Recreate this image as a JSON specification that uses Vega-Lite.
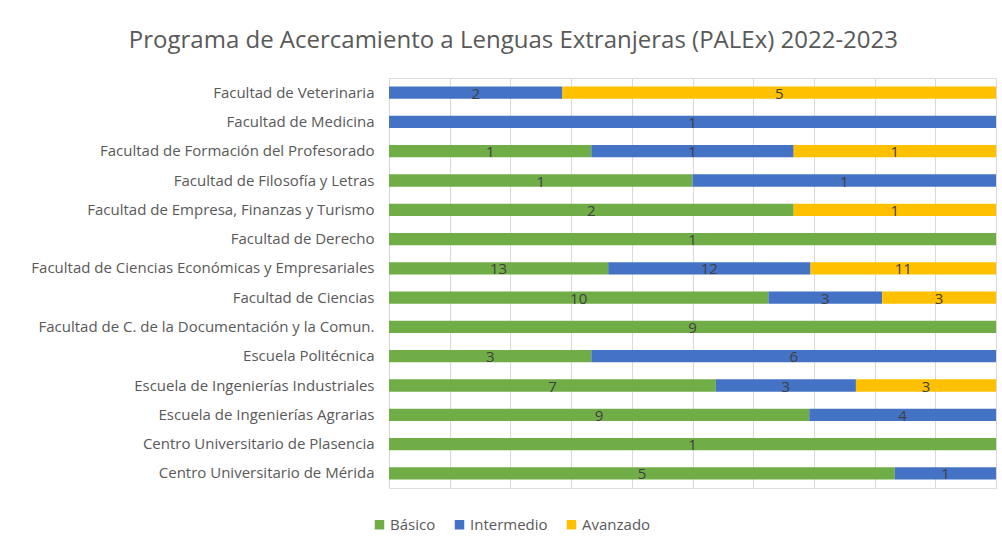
{
  "$schema": "https://vega.github.io/schema/vega-lite/v6.json",
  "width": 607,
  "height": 410,
  "autosize": {"type": "none"},
  "padding": {"left": 389, "top": 78, "right": 6, "bottom": 60},
  "background": "white",
  "title": {
    "text": "Programa de Acercamiento a Lenguas Extranjeras (PALEx)  2022-2023",
    "font": "Open Sans",
    "fontSize": 24,
    "fontWeight": "normal",
    "color": "#595959",
    "anchor": "middle",
    "frame": "bounds",
    "offset": 25
  },
  "data": {
    "values": [
      {"centro": "Facultad de Veterinaria", "nivel": "Intermedio", "n": 2},
      {"centro": "Facultad de Veterinaria", "nivel": "Avanzado", "n": 5},
      {"centro": "Facultad de Medicina", "nivel": "Intermedio", "n": 1},
      {"centro": "Facultad de Formación del Profesorado", "nivel": "Básico", "n": 1},
      {"centro": "Facultad de Formación del Profesorado", "nivel": "Intermedio", "n": 1},
      {"centro": "Facultad de Formación del Profesorado", "nivel": "Avanzado", "n": 1},
      {"centro": "Facultad de Filosofía y Letras", "nivel": "Básico", "n": 1},
      {"centro": "Facultad de Filosofía y Letras", "nivel": "Intermedio", "n": 1},
      {"centro": "Facultad de Empresa, Finanzas y Turismo", "nivel": "Básico", "n": 2},
      {"centro": "Facultad de Empresa, Finanzas y Turismo", "nivel": "Avanzado", "n": 1},
      {"centro": "Facultad de Derecho", "nivel": "Básico", "n": 1},
      {"centro": "Facultad de Ciencias Económicas y Empresariales", "nivel": "Básico", "n": 13},
      {"centro": "Facultad de Ciencias Económicas y Empresariales", "nivel": "Intermedio", "n": 12},
      {"centro": "Facultad de Ciencias Económicas y Empresariales", "nivel": "Avanzado", "n": 11},
      {"centro": "Facultad de Ciencias", "nivel": "Básico", "n": 10},
      {"centro": "Facultad de Ciencias", "nivel": "Intermedio", "n": 3},
      {"centro": "Facultad de Ciencias", "nivel": "Avanzado", "n": 3},
      {"centro": "Facultad de C. de la Documentación y  la Comun.", "nivel": "Básico", "n": 9},
      {"centro": "Escuela Politécnica", "nivel": "Básico", "n": 3},
      {"centro": "Escuela Politécnica", "nivel": "Intermedio", "n": 6},
      {"centro": "Escuela de Ingenierías Industriales", "nivel": "Básico", "n": 7},
      {"centro": "Escuela de Ingenierías Industriales", "nivel": "Intermedio", "n": 3},
      {"centro": "Escuela de Ingenierías Industriales", "nivel": "Avanzado", "n": 3},
      {"centro": "Escuela de Ingenierías Agrarias", "nivel": "Básico", "n": 9},
      {"centro": "Escuela de Ingenierías Agrarias", "nivel": "Intermedio", "n": 4},
      {"centro": "Centro Universitario de Plasencia", "nivel": "Básico", "n": 1},
      {"centro": "Centro Universitario de Mérida", "nivel": "Básico", "n": 5},
      {"centro": "Centro Universitario de Mérida", "nivel": "Intermedio", "n": 1}
    ]
  },
  "transform": [
    {"calculate": "indexof(['Básico', 'Intermedio', 'Avanzado'], datum.nivel)", "as": "orden"}
  ],
  "encoding": {
    "y": {
      "field": "centro",
      "type": "nominal",
      "sort": null,
      "title": null,
      "scale": {"paddingInner": 0.58, "paddingOuter": 0.29},
      "axis": {
        "domain": true,
        "domainColor": "#d9d9d9",
        "ticks": false,
        "labelPadding": 15,
        "labelFont": "Open Sans",
        "labelFontSize": 15,
        "labelColor": "#595959",
        "labelLimit": 400
      }
    }
  },
  "layer": [
    {
      "mark": {"type": "bar"},
      "encoding": {
        "x": {
          "field": "n",
          "type": "quantitative",
          "stack": "normalize",
          "title": null,
          "scale": {"domain": [0, 1]},
          "axis": {
            "values": [0, 0.1, 0.2, 0.3, 0.4, 0.5, 0.6, 0.7, 0.8, 0.9, 1],
            "grid": true,
            "gridColor": "#d9d9d9",
            "labels": false,
            "ticks": false,
            "domain": false,
            "zindex": 0
          }
        },
        "order": {"field": "orden", "type": "quantitative", "sort": "ascending"},
        "color": {
          "field": "nivel",
          "type": "nominal",
          "sort": ["Básico", "Intermedio", "Avanzado"],
          "scale": {
            "domain": ["Básico", "Intermedio", "Avanzado"],
            "range": ["#70ad47", "#4472c4", "#ffc000"]
          },
          "legend": {
            "title": null,
            "orient": "none",
            "direction": "horizontal",
            "legendX": -17,
            "legendY": 439,
            "symbolType": "square",
            "symbolSize": 90,
            "symbolStrokeWidth": 0,
            "labelFont": "Open Sans",
            "labelFontSize": 15,
            "labelColor": "#595959",
            "columnPadding": 16,
            "labelOffset": 3
          }
        }
      }
    },
    {
      "mark": {
        "type": "text",
        "font": "Open Sans",
        "fontSize": 15,
        "color": "#404040",
        "baseline": "middle",
        "align": "center",
        "dy": 1
      },
      "encoding": {
        "x": {
          "field": "n",
          "type": "quantitative",
          "stack": "normalize",
          "bandPosition": 0.5
        },
        "detail": {"field": "nivel", "type": "nominal"},
        "order": {"field": "orden", "type": "quantitative", "sort": "ascending"},
        "text": {"field": "n", "type": "quantitative"}
      }
    }
  ]
}
